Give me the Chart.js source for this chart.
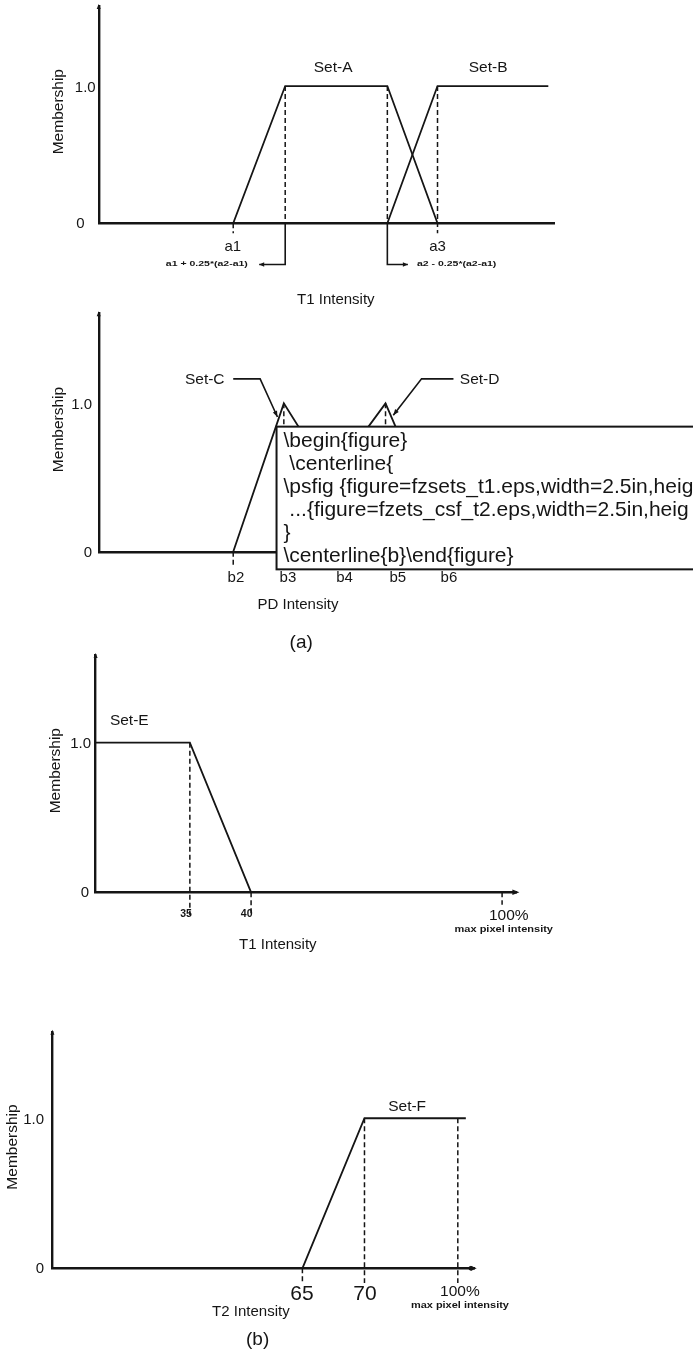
<!DOCTYPE html>
<html><head><meta charset="utf-8">
<script src="https://cdn.jsdelivr.net/npm/chart.js@4.4.1/dist/chart.umd.min.js"></script>
<style>
html,body{margin:0;padding:0;background:#fff;width:693px;height:1352px;overflow:hidden}
canvas{position:absolute;left:0;top:0}
</style></head>
<body>
<canvas id="c1" width="693" height="1352"></canvas>
<canvas id="c2" width="693" height="1352"></canvas>
<canvas id="c3" width="693" height="1352"></canvas>
<canvas id="c4" width="693" height="1352"></canvas>
<script>
// ================= DATA =================
// (a) upper panel: T1 intensity, Set-A / Set-B
const setA_x = [29.5, 40.9, 63.3, 74.3];
const setA_y = [0, 1, 1, 0];
const setB_x = [63.3, 74.3, 98.6];
const setB_y = [0, 1, 1];
const t1aTickVals = [29.4, 74.3];
const t1aTickLabels = ['a1', 'a3'];
const t1aGuideX = [29.5, 40.9, 63.3, 74.3];
const t1aGuideTop = [0, 1, 1, 1];
const t1aGuideBot = [-0.073, 0, 0, -0.073];
const t1aNoteFrom = [40.9, 63.3];
const t1aNoteTo = [35.2, 67.8];
const t1aNoteY = -0.30;
const t1aNoteLabels = ['a1 + 0.25*(a2-a1)', 'a2 - 0.25*(a2-a1)'];
const t1aNoteTextX = [32.7, 69.8];
const t1aSetLabels = ['Set-A', 'Set-B'];
const t1aSetLabelX = [51.4, 85.4];
const t1aSetLabelY = 1.131;

// (a) lower panel: PD intensity, Set-C / Set-D
const setC_x = [29.5, 40.6, 61.0];
const setC_y = [0, 1, 0];
const setD_x = [39.0, 62.9, 76.9];
const setD_y = [0, 1, 0];
const pdTickVals = [30.1, 41.5, 53.9, 65.6, 76.8];
const pdTickLabels = ['b2', 'b3', 'b4', 'b5', 'b6'];
const pdGuideX = [29.5, 40.6, 62.9];
const pdGuideTop = [0, 1, 1];
const pdGuideBot = [-0.10, 0, 0];
const setCLeader_x = [29.5, 35.4, 39.2];
const setCLeader_y = [1.165, 1.165, 0.908];
const setDLeader_x = [77.8, 70.8, 64.6];
const setDLeader_y = [1.165, 1.165, 0.92];
const pdSetLabels = ['Set-C', 'Set-D'];
const pdSetLabelX = [27.6, 79.2];
const pdSetLabelY = 1.156;
const latexBox = { x0: 39.0, yTop: 0.843, yBot: -0.119 };
const latexLines = ['\\begin{figure}', ' \\centerline{', '\\psfig {figure=fzsets_t1.eps,width=2.5in,heig',
  ' ...{figure=fzets_csf_t2.eps,width=2.5in,heig', '}', '\\centerline{b}\\end{figure}'];

// (b) upper panel: T1 intensity, Set-E
const setE_x = [0, 22.4, 36.95];
const setE_y = [1, 1, 0];
const t1bGuideX = [22.4, 36.95, 96.6];
const t1bGuideTop = [1, 0, 0];
const t1bGuideBot = [-0.152, -0.152, -0.084];
const t1bTickVals = [21.5, 35.9];
const t1bTickLabels = ['35', '40'];
const t1bMaxVal = 98.2;
const t1bMaxSubVal = 97.0;
const t1bSetLabelX = 3.4, t1bSetLabelY = 1.148;

// (b) lower panel: T2 intensity, Set-F
const setF_x = [59.2, 73.9, 97.9];
const setF_y = [0, 1, 1];
const t2GuideX = [59.2, 73.9, 96.0];
const t2GuideTop = [0, 1, 1];
const t2GuideBot = [-0.098, -0.098, -0.098];
const t2TickVals = [59.1, 74.0];
const t2TickLabels = ['65', '70'];
const t2MaxVal = 96.5;
const t2SetLabelX = 84.0, t2SetLabelY = 1.08;

// ================= HELPERS =================
const W = 693, H = 1352, INK = '#151515';
const FONT = '"Liberation Sans", Arial, Helvetica, sans-serif';

function pts(xs, ys) { return xs.map((x, i) => ({ x: x, y: ys[i] })); }
function series(xs, ys, width, dash) {
  return { data: pts(xs, ys), borderColor: INK, borderWidth: width, borderDash: dash || [],
    pointRadius: 0, pointHoverRadius: 0, fill: false, tension: 0, clip: false,
    borderCapStyle: 'butt', borderJoinStyle: 'miter' };
}
function guides(gx, top, bot) { return gx.map((x, i) => series([x, x], [top[i], bot[i]], 1.5, [5, 3])); }

function txt(ctx, s, x, y, o) {
  o = o || {};
  ctx.save();
  ctx.font = (o.bold ? 'bold ' : '') + (o.size || 15) + 'px ' + FONT;
  ctx.fillStyle = o.color || INK;
  ctx.textAlign = o.align || 'center';
  ctx.textBaseline = 'middle';
  ctx.translate(x, y);
  if (o.rot) ctx.rotate(o.rot);
  ctx.scale(o.sx || 1, o.sy || 1);
  if (o.maxW) ctx.fillText(s, 0, 0, o.maxW); else ctx.fillText(s, 0, 0);
  ctx.restore();
}
function arrowHead(ctx, x1, y1, x2, y2, len, half) {
  const a = Math.atan2(y2 - y1, x2 - x1);
  const bx = x2 - Math.cos(a) * len, by = y2 - Math.sin(a) * len;
  ctx.save();
  ctx.fillStyle = INK;
  ctx.beginPath();
  ctx.moveTo(x2, y2);
  ctx.lineTo(bx - Math.sin(a) * half, by + Math.cos(a) * half);
  ctx.lineTo(bx + Math.sin(a) * half, by - Math.cos(a) * half);
  ctx.closePath();
  ctx.fill();
  ctx.restore();
}
function axesDeco(chart, oneOff, zeroOff) {
  const ctx = chart.ctx, a = chart.chartArea, ys = chart.scales.y;
  arrowHead(ctx, a.left, a.top + 10, a.left, a.top - 2, 5, 2);
  txt(ctx, '1.0', a.left - oneOff, ys.getPixelForValue(1) + 1.5, { align: 'right' });
  txt(ctx, '0', a.left - zeroOff, ys.getPixelForValue(0) + 1, { align: 'right' });
  txt(ctx, 'Membership', a.left - 40, (a.top + a.bottom) / 2 - 3, { size: 15.5, rot: -Math.PI / 2 });
}
function axisOpts(pos, min, max) {
  return { type: 'linear', position: pos, min: min, max: max,
    grid: { display: false, drawTicks: false }, ticks: { display: false },
    border: { display: true, color: INK, width: 2.4 }, title: { display: false } };
}
function makeChart(id, area, ymax, datasets, draw) {
  return new Chart(document.getElementById(id), {
    type: 'line',
    data: { datasets: datasets },
    options: {
      responsive: false, maintainAspectRatio: false, animation: false, devicePixelRatio: 1, events: [],
      layout: { autoPadding: false, padding: { left: area.L, right: W - area.R, top: area.T, bottom: H - area.B } },
      plugins: { legend: { display: false }, tooltip: { enabled: false }, title: { display: false } },
      scales: { x: axisOpts('bottom', 0, 100), y: axisOpts('left', 0, ymax) }
    },
    plugins: [{ id: 'deco', afterDraw: draw }]
  });
}

// ================= PANEL 1 =================
makeChart('c1', { L: 98.7, R: 554.7, T: 6, B: 223.3 }, 1.583, [
  series(setA_x, setA_y, 1.8),
  series(setB_x, setB_y, 1.8),
  ...guides(t1aGuideX, t1aGuideTop, t1aGuideBot),
  series([t1aNoteFrom[0], t1aNoteFrom[0], t1aNoteTo[0]], [0, t1aNoteY, t1aNoteY], 1.6),
  series([t1aNoteFrom[1], t1aNoteFrom[1], t1aNoteTo[1]], [0, t1aNoteY, t1aNoteY], 1.6)
], function (chart) {
  const ctx = chart.ctx, xs = chart.scales.x, ys = chart.scales.y, a = chart.chartArea;
  axesDeco(chart, 3, 14);
  t1aTickVals.forEach((v, i) => txt(ctx, t1aTickLabels[i], xs.getPixelForValue(v), a.bottom + 23.5));
  t1aSetLabels.forEach((s, i) => txt(ctx, s, xs.getPixelForValue(t1aSetLabelX[i]), ys.getPixelForValue(t1aSetLabelY), { size: 15.5 }));
  const ny = ys.getPixelForValue(t1aNoteY);
  for (let i = 0; i < 2; i++) {
    arrowHead(ctx, xs.getPixelForValue(t1aNoteFrom[i]), ny, xs.getPixelForValue(t1aNoteTo[i]), ny, 5, 2.2);
  }
  txt(ctx, t1aNoteLabels[0], xs.getPixelForValue(t1aNoteTextX[0]), ny, { bold: true, size: 10.5, align: 'right', sy: 0.65, maxW: 83 });
  txt(ctx, t1aNoteLabels[1], xs.getPixelForValue(t1aNoteTextX[1]), ny, { bold: true, size: 10.5, align: 'left', sy: 0.65, maxW: 85 });
  txt(ctx, 'T1 Intensity', xs.getPixelForValue(52), a.bottom + 77);
});

// ================= PANEL 2 =================
makeChart('c2', { L: 98.7, R: 554.7, T: 313.3, B: 551.7 }, 1.607, [
  series(setC_x, setC_y, 1.8),
  series(setD_x, setD_y, 1.8),
  ...guides(pdGuideX, pdGuideTop, pdGuideBot),
  series(setCLeader_x, setCLeader_y, 1.6),
  series(setDLeader_x, setDLeader_y, 1.6)
], function (chart) {
  const ctx = chart.ctx, xs = chart.scales.x, ys = chart.scales.y, a = chart.chartArea;
  axesDeco(chart, 6.7, 6.7);
  arrowHead(ctx, xs.getPixelForValue(setCLeader_x[1]), ys.getPixelForValue(setCLeader_y[1]),
    xs.getPixelForValue(setCLeader_x[2]), ys.getPixelForValue(setCLeader_y[2]), 6, 2.3);
  arrowHead(ctx, xs.getPixelForValue(setDLeader_x[1]), ys.getPixelForValue(setDLeader_y[1]),
    xs.getPixelForValue(setDLeader_x[2]), ys.getPixelForValue(setDLeader_y[2]), 6, 2.3);
  txt(ctx, pdSetLabels[0], xs.getPixelForValue(pdSetLabelX[0]), ys.getPixelForValue(pdSetLabelY), { size: 15.5, align: 'right' });
  txt(ctx, pdSetLabels[1], xs.getPixelForValue(pdSetLabelX[1]), ys.getPixelForValue(pdSetLabelY), { size: 15.5, align: 'left' });
  // LaTeX overlay box
  const bx = xs.getPixelForValue(latexBox.x0), by0 = ys.getPixelForValue(latexBox.yTop), by1 = ys.getPixelForValue(latexBox.yBot);
  ctx.save();
  ctx.fillStyle = '#fff';
  ctx.fillRect(bx, by0, W - bx + 20, by1 - by0);
  ctx.strokeStyle = INK; ctx.lineWidth = 2;
  ctx.strokeRect(bx, by0, W - bx + 20, by1 - by0);
  ctx.restore();
  latexLines.forEach((s, i) => txt(ctx, s, bx + 7, by0 + 15 + i * 22.9, { size: 21, align: 'left' }));
  pdTickVals.forEach((v, i) => txt(ctx, pdTickLabels[i], xs.getPixelForValue(v), a.bottom + 26));
  txt(ctx, 'PD Intensity', xs.getPixelForValue(43.7), a.bottom + 53);
  txt(ctx, '(a)', xs.getPixelForValue(44.4), a.bottom + 91, { size: 19 });
});

// ================= PANEL 3 =================
makeChart('c3', { L: 95.6, R: 516.4, T: 655, B: 892.3 }, 1.586, [
  series(setE_x, setE_y, 1.8),
  ...guides(t1bGuideX, t1bGuideTop, t1bGuideBot)
], function (chart) {
  const ctx = chart.ctx, xs = chart.scales.x, ys = chart.scales.y, a = chart.chartArea;
  axesDeco(chart, 4.6, 6.6);
  arrowHead(ctx, a.right - 6, a.bottom, a.right + 3, a.bottom, 7, 2.8);
  t1bTickVals.forEach((v, i) => txt(ctx, t1bTickLabels[i], xs.getPixelForValue(v), a.bottom + 21.5, { bold: true, size: 10.5 }));
  txt(ctx, '100%', xs.getPixelForValue(t1bMaxVal), a.bottom + 23, { size: 15.5 });
  txt(ctx, 'max pixel intensity', xs.getPixelForValue(t1bMaxSubVal), a.bottom + 37, { bold: true, size: 11, sy: 0.75, maxW: 99 });
  txt(ctx, 'T1 Intensity', xs.getPixelForValue(43.3), a.bottom + 53);
  txt(ctx, 'Set-E', xs.getPixelForValue(t1bSetLabelX), ys.getPixelForValue(t1bSetLabelY), { size: 15.5, align: 'left' });
});

// ================= PANEL 4 =================
makeChart('c4', { L: 52.4, R: 474.7, T: 1031.7, B: 1268.3 }, 1.577, [
  series(setF_x, setF_y, 1.8),
  ...guides(t2GuideX, t2GuideTop, t2GuideBot)
], function (chart) {
  const ctx = chart.ctx, xs = chart.scales.x, ys = chart.scales.y, a = chart.chartArea;
  axesDeco(chart, 8.4, 8.4);
  ctx.save(); ctx.fillStyle = INK; ctx.beginPath(); ctx.arc(a.right - 4, a.bottom, 2.2, 0, Math.PI * 2); ctx.fill(); ctx.restore();
  arrowHead(ctx, a.right - 6, a.bottom, a.right + 2, a.bottom, 6, 2.6);
  t2TickVals.forEach((v, i) => txt(ctx, t2TickLabels[i], xs.getPixelForValue(v), a.bottom + 26, { size: 21 }));
  txt(ctx, '100%', xs.getPixelForValue(t2MaxVal), a.bottom + 23.5, { size: 15.5 });
  txt(ctx, 'max pixel intensity', xs.getPixelForValue(t2MaxVal), a.bottom + 37, { bold: true, size: 11, sy: 0.75, maxW: 98 });
  txt(ctx, 'T2 Intensity', xs.getPixelForValue(47.0), a.bottom + 44);
  txt(ctx, '(b)', xs.getPixelForValue(48.6), a.bottom + 71, { size: 19 });
  txt(ctx, 'Set-F', xs.getPixelForValue(t2SetLabelX), ys.getPixelForValue(t2SetLabelY), { size: 15.5 });
});
</script>
</body></html>
